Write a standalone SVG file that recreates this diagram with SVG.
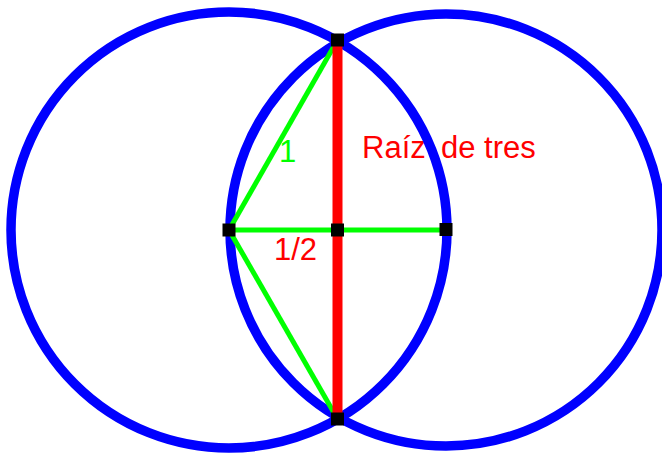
<svg xmlns="http://www.w3.org/2000/svg" width="662" height="454" viewBox="0 0 662 454">
<style>
.lbl{font-family:"Liberation Sans",Arial,sans-serif}
.circ{fill:none;stroke:#0000ff;stroke-width:9.5}
.seg{stroke:#00ff00;stroke-width:5;stroke-linecap:butt}
.root{stroke:#ff0000;stroke-width:10}
.pt{fill:#000000}
</style>
<rect width="662" height="454" fill="#ffffff"/>
<g id="label-raiz"><text class="lbl" y="158" font-size="31" fill="#ff0000"><tspan x="362">Raíz</tspan><tspan x="441">de tres</tspan></text></g>
<g id="circle-left"><circle class="circ" cx="229" cy="230" r="218"/></g>
<g id="circle-right"><circle class="circ" cx="446" cy="230" r="216"/></g>
<g id="connectors">
<line class="seg" x1="229" y1="230" x2="337.5" y2="40"/>
<line class="seg" x1="229" y1="230" x2="337.5" y2="419"/>
<line class="seg" x1="229" y1="230" x2="446" y2="230"/>
<line class="root" x1="337.5" y1="40" x2="337.5" y2="419"/>
</g>
<g id="label-1"><text class="lbl" x="279" y="162" font-size="31" fill="#00ff00">1</text></g>
<g id="label-half"><text class="lbl" x="274" y="259.5" font-size="31" fill="#ff0000">1/2</text></g>
<g id="point-left"><rect class="pt" x="222.5" y="223.5" width="13" height="13"/></g>
<g id="point-mid"><rect class="pt" x="331" y="223.5" width="13" height="13"/></g>
<g id="point-right"><rect class="pt" x="439.5" y="223" width="13" height="13"/></g>
<g id="point-top"><rect class="pt" x="331" y="33.5" width="13" height="13"/></g>
<g id="point-bottom"><rect class="pt" x="331" y="412.5" width="13" height="13"/></g>
</svg>
